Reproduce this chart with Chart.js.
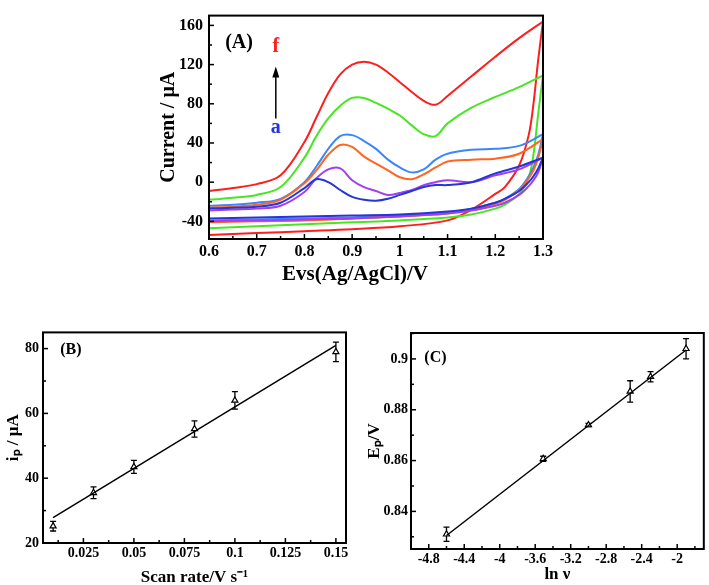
<!DOCTYPE html>
<html><head><meta charset="utf-8">
<script src="https://cdn.jsdelivr.net/npm/chart.js@4.4.1/dist/chart.umd.min.js"></script>
<style>
html,body{margin:0;padding:0;background:#fff;overflow:hidden;width:709px;height:585px;}
.box{position:absolute;}
</style></head><body>
<div class="box" style="left:157px;top:0px;width:552px;height:287px"><canvas id="cA"></canvas></div>
<div class="box" style="left:3px;top:320px;width:360px;height:268px"><canvas id="cB"></canvas></div>
<div class="box" style="left:364px;top:320px;width:345px;height:265px"><canvas id="cC"></canvas></div>
<script>
// ---------- Panel A data (cyclic voltammograms a-f) ----------
const E_fwd = [0.6,0.65,0.7,0.75,0.8,0.825,0.85,0.875,0.9,0.925,0.95,0.975,1.0,1.025,1.05,1.075,1.1,1.15,1.2,1.25,1.3];
const E_rev = [1.3,1.29,1.28,1.27,1.25,1.22,1.2,1.15,1.1,1.0,0.9,0.8,0.7,0.6];
const fwd_a = [-27,-26,-25,-21,-6,3,0,-8,-15,-18,-19,-17,-13,-9,-5,-3,-3,0,9,16,25];
const fwd_b = [-29,-28,-27,-24,-10,4,13,14,2,-5,-9,-13,-11,-8,-3,0,2,0,7,13,25];
const fwd_c = [-26,-25,-23,-18,-1,12,28,38,36,26,19,12,5,3,8,15,21,23,24,29,44];
const fwd_d = [-24,-23,-21,-17,0,16,34,47,48,42,34,23,15,10,13,23,29,33,34,37,49];
const fwd_e = [-18,-16,-13,-5,25,47,65,78,86,86,81,75,68,58,49,47,60,76,87,97,109];
const fwd_f = [-9,-6,-2,7,41,66,91,110,120,123,120,112,102,92,83,79,88,108,128,147,164];
const rev_a = [25,14,6,0,-9,-17,-21,-27,-30,-33,-34,-35,-36,-37];
const rev_b = [25,10,2,-4,-13,-21,-24,-29,-32,-35,-37,-38,-39,-40];
const rev_c = [44,25,12,4,-8,-18,-22,-28,-32,-35,-37,-39,-40,-41];
const rev_d = [49,28,15,6,-7,-17,-21,-27,-31,-34,-36,-37,-38,-39];
const rev_e = [109,70,28,5,-12,-23,-27,-33,-36,-39,-41,-43,-45,-47];
const rev_f = [164,125,80,48,17,-5,-12,-28,-39,-45,-48,-50,-52,-54];
const curveNames = ['a','b','c','d','e','f'];
const curveColors = ['#2436d8','#a23ef0','#ff6420','#3a86ff','#48e622','#ff1e1e'];
const xTicksA = [0.6,0.7,0.8,0.9,1.0,1.1,1.2,1.3];
const yTicksA = [-40,0,40,80,120,160];

// ---------- Panel B data ----------
const scanRate = [0.01,0.03,0.05,0.08,0.1,0.15];
const ipVals = [25.2,35.5,43.5,55.2,64.0,79.0];
const ipErr = [1.5,1.8,2.0,2.5,2.7,3.0];
const fitRate = [0.01,0.15];
const fitIp = [27.8,81.0];
const xTicksB = [0.025,0.05,0.075,0.1,0.125,0.15];
const yTicksB = [20,40,60,80];

// ---------- Panel C data ----------
const lnv = [-4.6,-3.51,-3.0,-2.53,-2.3,-1.9];
const EpVals = [0.831,0.8607,0.874,0.8872,0.893,0.904];
const EpErr = [0.0028,0.001,0.0006,0.0042,0.002,0.004];
const fitLn = [-4.6,-1.9];
const fitEp = [0.8305,0.9035];
const xTicksC = [-4.8,-4.4,-4,-3.6,-3.2,-2.8,-2.4,-2];
const yTicksC = [0.84,0.86,0.88,0.9];

const FONT = 'Liberation Serif';
const fwdSets = [fwd_a,fwd_b,fwd_c,fwd_d,fwd_e,fwd_f];
const revSets = [rev_a,rev_b,rev_c,rev_d,rev_e,rev_f];

function pts(xs, ys){ return xs.map((x,i)=>({x:x,y:ys[i]})); }
function minors(ticks, min, max){
  const out=[]; const step = ticks[1]-ticks[0];
  for (let i=-1;i<ticks.length;i++){
    const v = ticks[0] + (i+0.5)*step;
    if (v>min && v<max) out.push(v);
  }
  return out;
}

const framePlugin = {
  id:'frame',
  afterDraw(chart){
    const {ctx, chartArea:a, scales} = chart;
    const xs = scales.x, ys = scales.y;
    ctx.save();
    ctx.strokeStyle='#000';
    ctx.lineWidth=1.5;
    const xt = xs.ticks.map(t=>t.value), yt = ys.ticks.map(t=>t.value);
    const tx=(v,len)=>{const p=xs.getPixelForValue(v);ctx.beginPath();ctx.moveTo(p,a.bottom);ctx.lineTo(p,a.bottom-len);ctx.stroke();};
    const ty=(v,len)=>{const p=ys.getPixelForValue(v);ctx.beginPath();ctx.moveTo(a.left,p);ctx.lineTo(a.left+len,p);ctx.stroke();};
    xt.forEach(v=>tx(v,5)); minors(xt,xs.min,xs.max).forEach(v=>tx(v,3));
    yt.forEach(v=>ty(v,5)); minors(yt,ys.min,ys.max).forEach(v=>ty(v,3));
    ctx.lineWidth=2;
    ctx.strokeRect(a.left,a.top,a.right-a.left,a.bottom-a.top);
    ctx.restore();
  }
};

function errPlugin(xv, yv, ev){
  return {
    id:'errbars',
    beforeDatasetsDraw(chart){
      const {ctx, scales} = chart;
      ctx.save(); ctx.strokeStyle='#000'; ctx.lineWidth=1.3;
      xv.forEach((x,i)=>{
        const px = scales.x.getPixelForValue(x);
        const p1 = scales.y.getPixelForValue(yv[i]+ev[i]);
        const p2 = scales.y.getPixelForValue(yv[i]-ev[i]);
        ctx.beginPath();
        ctx.moveTo(px,p1);ctx.lineTo(px,p2);
        ctx.moveTo(px-3,p1);ctx.lineTo(px+3,p1);
        ctx.moveTo(px-3,p2);ctx.lineTo(px+3,p2);
        ctx.stroke();
      });
      ctx.restore();
    }
  };
}

function scaleOpts(o){
  return {
    type:'linear', min:o.min, max:o.max,
    afterBuildTicks:(s)=>{ s.ticks = o.ticks.map(v=>({value:v})); },
    afterFit:(s)=>{ if(o.width!==undefined) s.width=o.width; if(o.height!==undefined) s.height=o.height; },
    grid:{display:false, drawTicks:false, tickLength:0}, border:{display:false},
    ticks:{color:'#000', padding:o.pad, font:{family:FONT, weight:'bold', size:o.tsize}, callback:(v)=>String(v)},
    title:{display:true, text:o.title, color:'#000', padding:0, font:{family:FONT, weight:'bold', size:o.hsize}}
  };
}

Chart.defaults.animation = false;
Chart.defaults.events = [];

// ---------- Panel A ----------
const dsA = [];
for (let k=0;k<6;k++){
  dsA.push({label:curveNames[k]+' fwd', data:pts(E_fwd,fwdSets[k]), borderColor:curveColors[k], borderWidth:2, pointRadius:0, showLine:true, tension:0.35});
  dsA.push({label:curveNames[k]+' rev', data:pts(E_rev,revSets[k]), borderColor:curveColors[k], borderWidth:2, pointRadius:0, showLine:true, tension:0.35});
}
const annotA = {
  id:'annotA',
  afterDraw(chart){
    const {ctx, scales} = chart; const X=scales.x, Y=scales.y;
    ctx.save();
    ctx.textAlign='center'; ctx.textBaseline='middle';
    ctx.font='bold 20px "'+FONT+'"';
    ctx.fillStyle='#000'; ctx.fillText('(A)', X.getPixelForValue(0.663), Y.getPixelForValue(142));
    ctx.fillStyle=curveColors[5]; ctx.fillText('f', X.getPixelForValue(0.740), Y.getPixelForValue(138));
    ctx.fillStyle=curveColors[0]; ctx.fillText('a', X.getPixelForValue(0.740), Y.getPixelForValue(55));
    const ax = X.getPixelForValue(0.740), y0=Y.getPixelForValue(65), y1=Y.getPixelForValue(118);
    ctx.strokeStyle='#000'; ctx.lineWidth=1.5;
    ctx.beginPath(); ctx.moveTo(ax,y0); ctx.lineTo(ax,y1+8); ctx.stroke();
    ctx.fillStyle='#000'; ctx.beginPath(); ctx.moveTo(ax,y1); ctx.lineTo(ax-3.5,y1+11); ctx.lineTo(ax+3.5,y1+11); ctx.closePath(); ctx.fill();
    ctx.restore();
  }
};
new Chart(document.getElementById('cA'), {
  type:'scatter',
  data:{datasets:dsA},
  options:{
    responsive:true, maintainAspectRatio:false,
    layout:{padding:{left:0,right:166,top:2,bottom:0}},
    plugins:{legend:{display:false}, tooltip:{enabled:false}},
    scales:{
      x:scaleOpts({min:0.6,max:1.3,ticks:xTicksA,height:48,pad:3,tsize:16,hsize:21,title:'Evs(Ag/AgCl)/V        '}),
      y:scaleOpts({min:-58,max:170,ticks:yTicksA,width:52,pad:6,tsize:16,hsize:20,title:'Current / μA'})
    }
  },
  plugins:[framePlugin, annotA]
});

// ---------- Panel B ----------
function labelPlugin(txt, xv, yv){
  return {id:'lbl', afterDraw(chart){
    const {ctx, scales}=chart; ctx.save(); ctx.font='bold 16px "'+FONT+'"'; ctx.fillStyle='#000';
    ctx.textAlign='left'; ctx.textBaseline='middle';
    ctx.fillText(txt, scales.x.getPixelForValue(xv), scales.y.getPixelForValue(yv)); ctx.restore();
  }};
}
new Chart(document.getElementById('cB'), {
  type:'scatter',
  data:{datasets:[
    {label:'fit', data:pts(fitRate,fitIp), borderColor:'#000', borderWidth:1.5, pointRadius:0, showLine:true},
    {label:'ip', data:pts(scanRate,ipVals), pointStyle:'triangle', pointRadius:3.5, borderColor:'#000', borderWidth:1.2, backgroundColor:'#fff', showLine:false}
  ]},
  options:{
    responsive:true, maintainAspectRatio:false,
    layout:{padding:{left:0,right:17,top:7,bottom:0}},
    plugins:{legend:{display:false}, tooltip:{enabled:false}},
    scales:{
      x:scaleOpts({min:0.005,max:0.155,ticks:xTicksB,height:45,pad:2,tsize:14,hsize:17,title:'Scan rate/V s⁻¹'}),
      y:scaleOpts({min:20,max:85,ticks:yTicksB,width:40,pad:4,tsize:14,hsize:17,title:'iₚ / μA'})
    }
  },
  plugins:[framePlugin, errPlugin(scanRate,ipVals,ipErr), labelPlugin('(B)',0.0135,79.5)]
});

// ---------- Panel C ----------
new Chart(document.getElementById('cC'), {
  type:'scatter',
  data:{datasets:[
    {label:'fit', data:pts(fitLn,fitEp), borderColor:'#000', borderWidth:1.5, pointRadius:0, showLine:true},
    {label:'Ep', data:pts(lnv,EpVals), pointStyle:'triangle', pointRadius:3.5, borderColor:'#000', borderWidth:1.2, backgroundColor:'#fff', showLine:false}
  ]},
  options:{
    responsive:true, maintainAspectRatio:false,
    layout:{padding:{left:0,right:2,top:13,bottom:0}},
    plugins:{legend:{display:false}, tooltip:{enabled:false}},
    scales:{
      x:scaleOpts({min:-5.0,max:-1.7,ticks:xTicksC,height:36,pad:2,tsize:14,hsize:17,title:'ln ν'}),
      y:scaleOpts({min:0.8252,max:0.9102,ticks:yTicksC,width:47,pad:3,tsize:14,hsize:17,title:'Eₚ/V'})
    }
  },
  plugins:[framePlugin, errPlugin(lnv,EpVals,EpErr), labelPlugin('(C)',-4.85,0.9005)]
});
</script>
</body></html>
